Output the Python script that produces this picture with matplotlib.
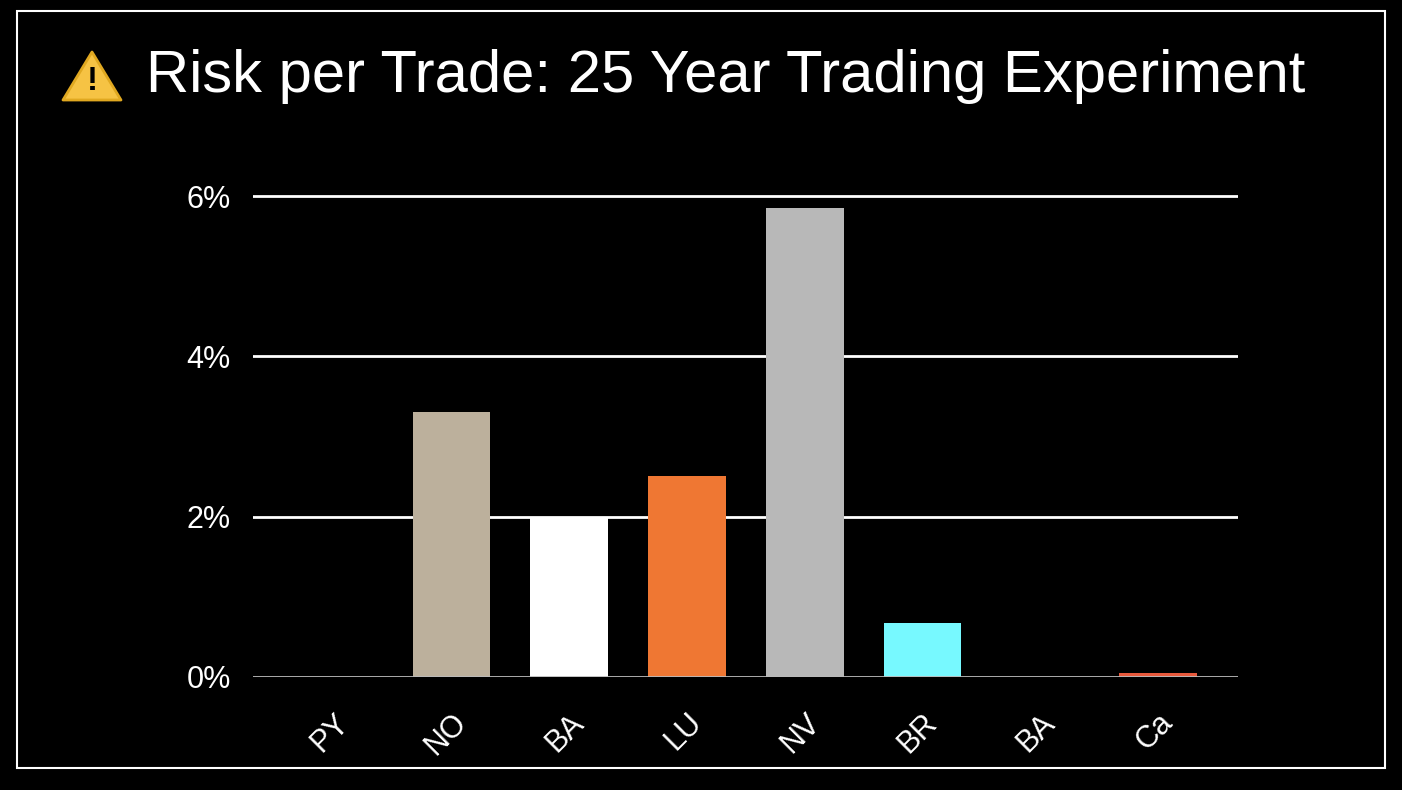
import matplotlib
matplotlib.use("Agg")
import matplotlib.pyplot as plt
from matplotlib.patches import Rectangle, Polygon

categories = ["PY", "NO", "BA", "LU", "NV", "BR", "BA", "Ca"]
values = [0.0, 3.31, 2.0, 2.51, 5.85, 0.67, 0.0, 0.05]
colors = ["#b8b8b8", "#bcb09c", "#ffffff", "#ef7733", "#b8b8b8", "#77f9ff", "#b8b8b8", "#e8593c"]
yticks = [0, 2, 4, 6]

W, H = 1402, 790
fig = plt.figure(figsize=(W/100, H/100), dpi=100, facecolor="black")
fig.patches.append(Rectangle((17/W, 1-768/H), (1385-17)/W, (768-11)/H, transform=fig.transFigure,
                             fill=False, edgecolor="white", lw=1.5))
# warning icon
fig.patches.append(Polygon([(63/W, 1-100/H), (121/W, 1-100/H), (92/W, 1-52/H)], closed=True,
                           transform=fig.transFigure, facecolor="#f6c344", edgecolor="#e0a820",
                           lw=2, joinstyle="round"))
fig.text(92/W, 1-82/H, "!", color="black", fontsize=24, fontweight="bold", ha="center", va="center",
         family="Liberation Sans")

ax = fig.add_axes([253/W, 1-677/H, (1238-253)/W, (677-196)/H*7/6])
ax.set_facecolor("black")
x = list(range(len(categories)))
ax.bar(x, values, width=0.66, color=colors, zorder=3)
ax.set_xlim(-0.687, 7.68)
ax.set_ylim(0, 7)
ax.set_yticks(yticks)
ax.set_yticklabels([f"{v}%" for v in yticks], color="white", fontsize=22, family="Liberation Sans")
for v in yticks[1:]:
    ax.axhline(v, color="white", lw=2, zorder=1)
ax.axhline(0, color="#bbbbbb", lw=2, zorder=4)
ax.set_xticks(x)
ax.set_xticklabels(categories, rotation=45, color="white", fontsize=22, family="Liberation Sans",
                   ha="right", rotation_mode="anchor")
ax.tick_params(axis="y", length=0, pad=16)
ax.tick_params(axis="x", length=0, pad=22)
for s in ax.spines.values():
    s.set_visible(False)
fig.text(146/W, 1-76/H, "Risk per Trade: 25 Year Trading Experiment", color="white", fontsize=43,
         ha="left", va="center", family="Liberation Sans")
fig.savefig("out.png", dpi=100, facecolor="black")
